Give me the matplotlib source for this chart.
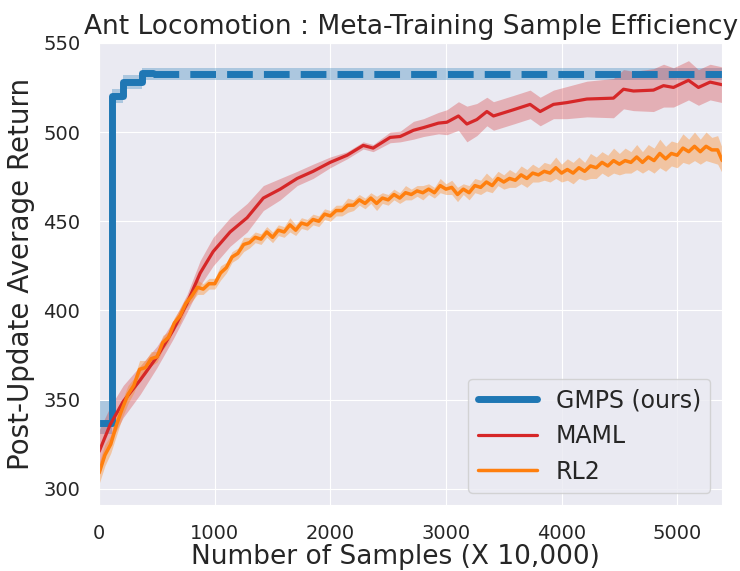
import numpy as np
import matplotlib
matplotlib.use("Agg")
import matplotlib.pyplot as plt
import seaborn as sns

# GMPS (ours): step curve then converged (dashed) value
gmps_x = [0, 110, 110, 210, 210, 370, 370, 467]
gmps_y = [337, 337, 520, 520, 528, 528, 533, 533]
gmps_lo = [331, 331, 516, 516, 524, 524, 529, 529]
gmps_hi = [349, 349, 524, 524, 532, 532, 536, 536]
gmps_final = 532.5
gmps_final_err = 3.5

# MAML
maml_x = [0, 95, 208, 355, 500, 640, 760, 874, 986, 1133, 1280, 1420, 1566, 1713,
          1851, 1998, 2145, 2284, 2370, 2517, 2604, 2719, 2806, 2935, 3008, 3108,
          3181, 3267, 3354, 3411, 3584, 3728, 3815, 3930, 4046, 4219, 4449, 4536,
          4622, 4795, 4882, 4968, 5098, 5184, 5285, 5390]
maml_y = [321, 336, 349, 361, 374, 389, 404, 421, 433, 444, 452, 463, 468, 474,
          478, 483, 487, 492.5, 491, 497, 497.5, 501, 502.5, 505, 505.5, 509,
          504.5, 507, 511.5, 509, 512.5, 515.5, 511.5, 515.5, 516.5, 518.5, 519, 524,
          523, 523.5, 526, 525, 529, 525, 528, 526.5]
maml_err = [12, 10, 9, 8, 6, 5, 5, 7, 8, 8, 8, 7, 6, 4,
            4, 3, 2, 2, 2, 3, 3, 5, 5, 6, 7, 8,
            10, 9, 8, 8, 8, 8, 8, 8, 9, 10, 11, 11,
            11, 12, 12, 11, 11, 10, 10, 10]

# RL2 (noisy curve, every 50 samples)
rl2_x = list(range(0, 5400, 50)) + [5390]
rl2_y = [309, 319, 325, 336, 345, 353, 358, 367, 368, 373,
         374, 382, 385, 393, 397, 404, 408, 413, 412, 415,
         415, 421, 424, 430, 432, 437, 438, 441, 440, 444,
         441, 445, 444, 448, 445, 449, 448, 451, 450, 454,
         453, 456, 456, 459, 459, 462, 460, 463, 460, 463,
         462, 465, 463, 466, 465, 467, 466, 468, 466, 470,
         468, 469, 465, 468, 466, 470, 469, 472, 470, 474,
         472, 474, 473, 476, 474, 477, 476, 478, 477, 480,
         477, 479, 477, 480, 478, 481, 480, 483, 481, 484,
         482, 484, 483, 486, 483, 486, 484, 488, 485, 488,
         487, 491, 489, 492, 489, 492, 490, 490, 484]
rl2_err = [6, 6, 5, 6, 5, 5, 4, 5, 4, 4,
           3, 4, 3, 3, 4, 3, 3, 4, 3, 3,
           3, 4, 3, 3, 3, 4, 3, 3, 3, 3,
           3, 3, 3, 4, 3, 3, 3, 3, 3, 3,
           3, 3, 3, 4, 3, 3, 3, 3, 4, 3,
           3, 3, 3, 4, 3, 3, 4, 3, 3, 4,
           3, 4, 4, 3, 4, 4, 4, 5, 4, 4,
           4, 5, 4, 5, 5, 5, 4, 5, 5, 6,
           5, 6, 6, 6, 5, 7, 6, 6, 6, 7,
           6, 7, 6, 7, 6, 7, 7, 8, 7, 7,
           7, 8, 7, 8, 7, 8, 7, 8, 7]

blue = "#1f77b4"
red = "#d62728"
orange = "#ff7f0e"

sns.set_style("darkgrid")
plt.rcParams["font.family"] = ["DejaVu Sans"]

fig = plt.figure(figsize=(7.4, 5.71), dpi=100)
ax = fig.add_axes([0.134, 0.1156, 0.842, 0.8094])

ax.fill_between(gmps_x, gmps_lo, gmps_hi, color=blue, alpha=0.3, lw=0)
ax.plot(gmps_x, gmps_y, color=blue, lw=5, label="GMPS (ours)",
        solid_capstyle="round")
ax.fill_between([gmps_x[-1], 5390], gmps_final - gmps_final_err, gmps_final + gmps_final_err,
                color=blue, alpha=0.3, lw=0)
ax.plot([gmps_x[-1], 5390], [gmps_final, gmps_final], color=blue, lw=5, ls="--")

maml_y = np.array(maml_y)
maml_err = np.array(maml_err)
ax.fill_between(maml_x, maml_y - maml_err, maml_y + maml_err, color=red, alpha=0.3, lw=0)
ax.plot(maml_x, maml_y, color=red, lw=2.3, label="MAML")

rl2_y = np.array(rl2_y)
rl2_err = np.array(rl2_err)
ax.fill_between(rl2_x, rl2_y - rl2_err, rl2_y + rl2_err, color=orange, alpha=0.35, lw=0)
ax.plot(rl2_x, rl2_y, color=orange, lw=2.5, label="RL2")

ax.set_xlim(0, 5390)
ax.set_ylim(291, 550)
ax.set_xticks([0, 1000, 2000, 3000, 4000, 5000])
ax.set_yticks([300, 350, 400, 450, 500, 550])
ax.tick_params(labelsize=14, pad=10, colors=".15")

ax.set_title("Ant Locomotion : Meta-Training Sample Efficiency", fontsize=19, color=".15")
ax.set_xlabel("Number of Samples (X 10,000)", fontsize=19, color=".15")
ax.xaxis.set_label_coords(0.476, -0.085)
ax.set_ylabel("Post-Update Average Return", fontsize=20, color=".15", labelpad=6)

ax.legend(loc="lower right", fontsize=17, handlelength=2.5, frameon=True)

fig.savefig("out.png", dpi=100)
